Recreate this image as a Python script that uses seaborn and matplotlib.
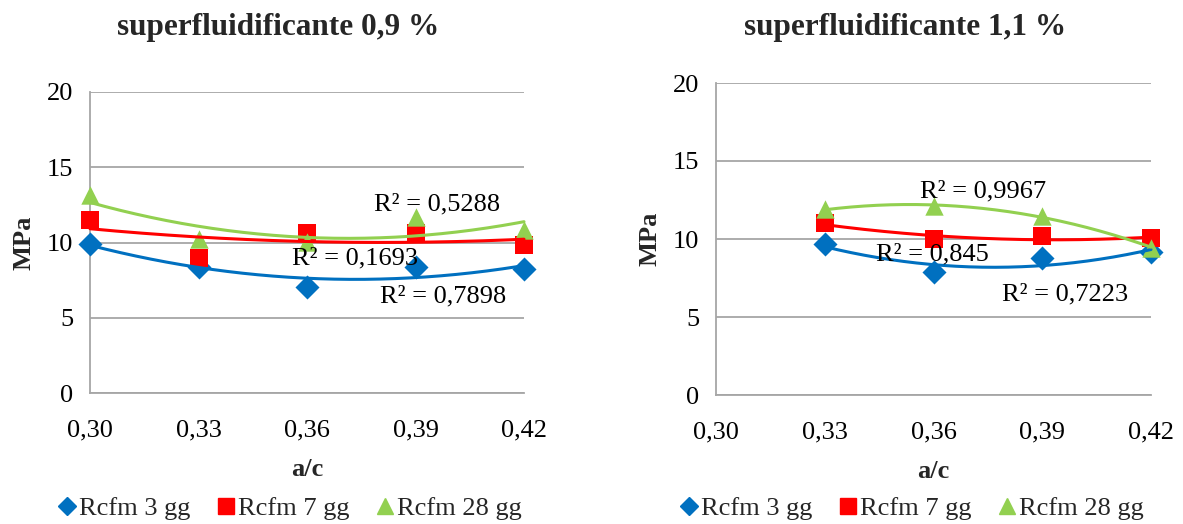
import numpy as np
import pandas as pd
import matplotlib
matplotlib.use("Agg")
import matplotlib.pyplot as plt
from matplotlib.lines import Line2D
import seaborn as sns

# ---- data ----
ac_left = [0.30, 0.33, 0.36, 0.39, 0.42]
left_3gg = [9.88, 8.40, 7.07, 8.35, 8.22]
left_7gg = [11.50, 9.00, 10.65, 10.60, 9.83]
left_28gg = [13.15, 10.20, 10.05, 11.70, 10.80]

ac_right = [0.33, 0.36, 0.39, 0.42]
right_3gg = [9.66, 7.89, 8.76, 9.17]
right_7gg = [11.00, 9.98, 10.19, 10.04]
right_28gg = [11.90, 12.10, 11.47, 9.45]

series_names = ["Rcfm 3 gg", "Rcfm 7 gg", "Rcfm 28 gg"]
x_ticks = [0.30, 0.33, 0.36, 0.39, 0.42]
x_tick_labels = ["0,30", "0,33", "0,36", "0,39", "0,42"]
y_ticks = [0, 5, 10, 15, 20]
titles = ["superfluidificante 0,9 %", "superfluidificante 1,1 %"]
r2_left = ["R² = 0,7898", "R² = 0,1693", "R² = 0,5288"]
r2_right = ["R² = 0,7223", "R² = 0,845", "R² = 0,9967"]

# ---- styling ----
sns.set_theme(style="white")
plt.rcParams["font.family"] = ["Liberation Serif", "DejaVu Serif"]

colors = ["#0070C0", "#FF0000", "#92D050"]
markers = ["D", "s", "^"]
sizes = [150, 155, 175]
grid_col = "#A6A6A6"
FS = 19

W, H = 1183, 524
fig = plt.figure(figsize=(W / 100, H / 100), dpi=100)
ax1 = fig.add_axes([90 / W, 1 - 393 / H, 434 / W, 301 / H])
ax2 = fig.add_axes([716 / W, 1 - 395 / H, 435 / W, 312 / H])


def draw_panel(ax, x, ys, r2_texts, r2_pos):
    for i, y in enumerate(ys):
        df = pd.DataFrame({"ac": x, "MPa": y})
        sns.scatterplot(data=df, x="ac", y="MPa", ax=ax, marker=markers[i],
                        s=sizes[i], color=colors[i], edgecolor=colors[i],
                        linewidth=0, clip_on=False, zorder=3, legend=False)
        # second-order polynomial trend line
        coef = np.polyfit(x, y, 2)
        xs = np.linspace(min(x), max(x), 200)
        trend = pd.DataFrame({"ac": xs, "MPa": np.polyval(coef, xs)})
        sns.lineplot(data=trend, x="ac", y="MPa", ax=ax, color=colors[i],
                     linewidth=2.2, zorder=4, clip_on=False, legend=False)
    for txt, (tx, ty) in zip(r2_texts, r2_pos):
        ax.text(tx, ty, txt, ha="center", va="center", fontsize=FS,
                color="black", zorder=5)

    ax.set_xlim(0.30, 0.42)
    ax.set_ylim(0, 20)
    ax.set_xticks(x_ticks)
    ax.set_xticklabels(x_tick_labels)
    ax.set_yticks(y_ticks)
    ax.tick_params(axis="both", labelsize=FS, labelcolor="black",
                   color=grid_col, direction="out", length=7, width=1.3)
    ax.tick_params(axis="x", pad=12)
    ax.tick_params(axis="y", pad=5)
    ax.yaxis.grid(True, color=grid_col, linewidth=1.3)
    ax.xaxis.grid(False)
    ax.set_axisbelow(True)
    for side in ["top", "right"]:
        ax.spines[side].set_visible(False)
    for side in ["left", "bottom"]:
        ax.spines[side].set_color(grid_col)
        ax.spines[side].set_linewidth(1.3)
    ax.set_xlabel("a/c", fontsize=FS, fontweight="bold", labelpad=12)
    ax.set_ylabel("MPa", fontsize=FS, fontweight="bold", labelpad=8)


draw_panel(ax1, ac_left, [left_3gg, left_7gg, left_28gg], r2_left,
           [(0.3976, 6.4), (0.3733, 8.97), (0.396, 12.5)])
draw_panel(ax2, ac_right, [right_3gg, right_7gg, right_28gg], r2_right,
           [(0.3964, 6.46), (0.3598, 9.02), (0.3737, 13.07)])

fig.text(278 / W, 1 - 28 / H, titles[0], ha="center", va="center",
         fontsize=22.5, fontweight="bold")
fig.text(905 / W, 1 - 28 / H, titles[1], ha="center", va="center",
         fontsize=22.5, fontweight="bold")

handles = [Line2D([], [], linestyle="none", marker=m, color=c, markersize=ms)
           for m, c, ms in zip(markers, colors, [9, 11.5, 11])]
for cx in (290, 912):
    fig.legend(handles, series_names, loc="center",
               bbox_to_anchor=(cx / W, 1 - 508 / H), ncol=3, frameon=False,
               fontsize=FS, handlelength=0.65, handletextpad=0.15,
               columnspacing=1.0, borderpad=0.0)

fig.savefig("out.png", dpi=100)
